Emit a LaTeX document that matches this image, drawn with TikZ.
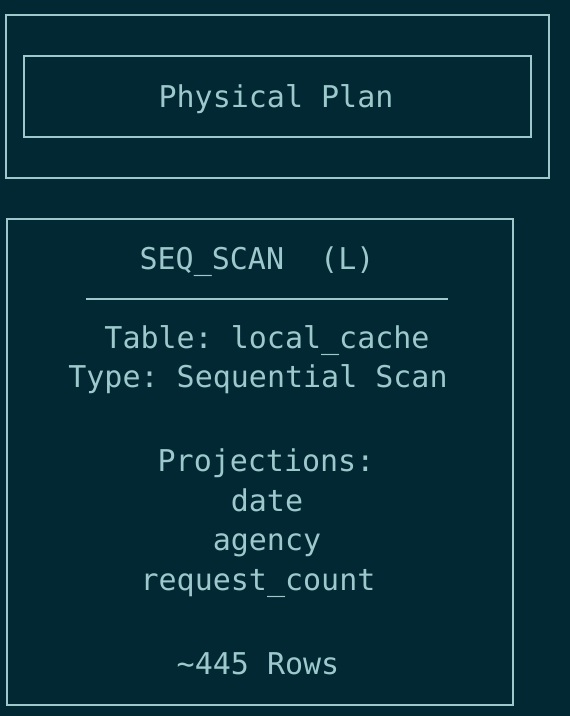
\documentclass[tikz,border=0pt]{standalone}
\usepackage{fontspec}
\setmonofont{DejaVu Sans Mono}
\usepackage{tikz}
\usetikzlibrary{positioning}
\definecolor{planbg}{HTML}{012833}
\definecolor{planfg}{HTML}{9DC9CD}
\tikzset{
  planbox/.style={draw=planfg, line width=2pt},
  plantext/.style={text=planfg, inner sep=0pt, anchor=base, font=\ttfamily\fontsize{30}{36}\selectfont}
}

\begin{document}
\begin{tikzpicture}[x=1pt, y=-1pt]
    \fill[planbg] (0,0) rectangle (570,716);
    \useasboundingbox (0,0) rectangle (570,716);

    \draw[planbox] (6,15) rectangle (549,178);
    \draw[planbox] (24,56) rectangle (531,137);
    \node (title) [plantext] at (276,107) {Physical Plan};

    \draw[planbox] (7,219) rectangle (513,705);
    \node (scan) [plantext] at (257,269) {SEQ\_SCAN\ \ (L)};
    \coordinate (ruleL) at (86,299);
    \coordinate (ruleR) at (448,299);
    \draw[planfg, line width=2pt] (ruleL) -- (ruleR);
    \node (table) [plantext] at (267,348) {Table: local\_cache};
    \node (type) [plantext] at (258,387) {Type: Sequential Scan};
    \node (proj) [plantext] at (266,471) {Projections:};
    \node (date) [plantext] at (267,511) {date};
    \node (agency) [plantext] at (267,550) {agency};
    \node (count) [plantext] at (258,590) {request\_count};
    \node (rows) [plantext] at (258,674) {\char`\~445 Rows};
\end{tikzpicture}
\end{document}
